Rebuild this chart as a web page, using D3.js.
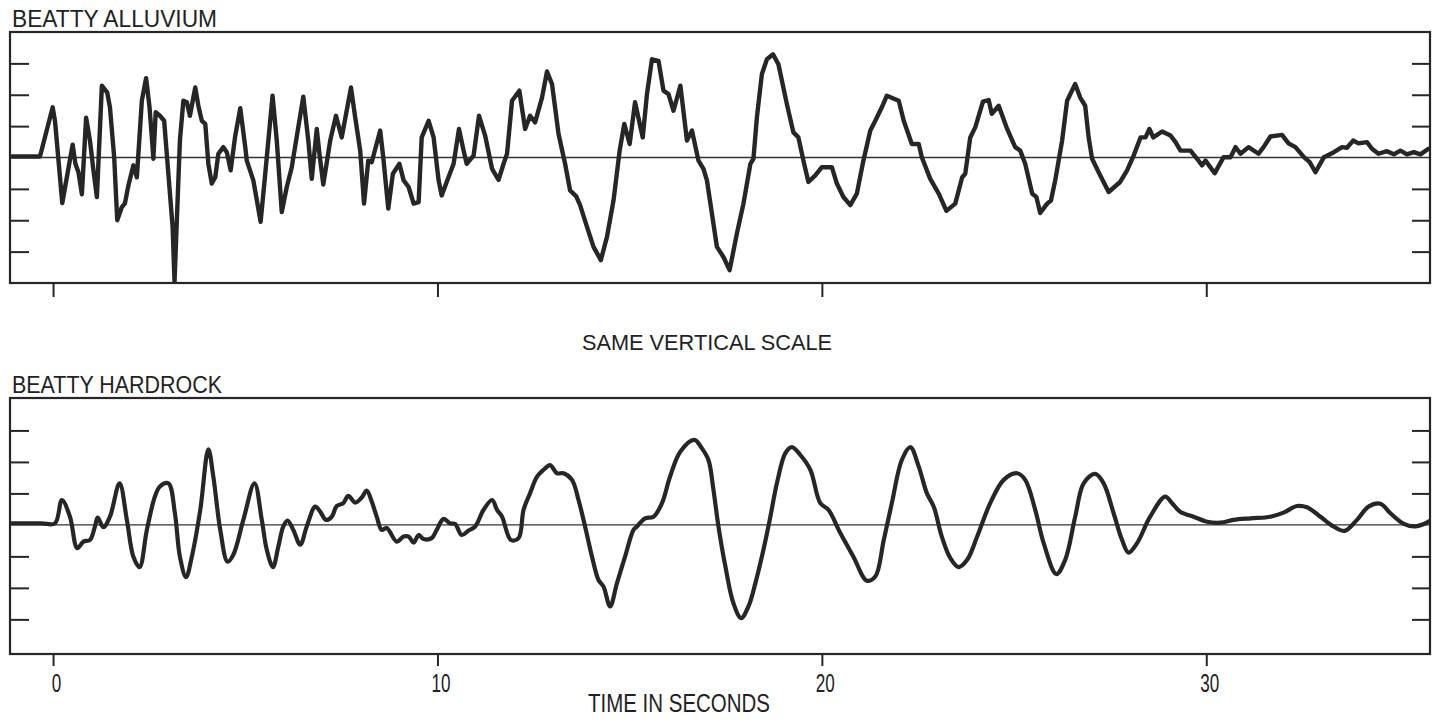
<!DOCTYPE html>
<html>
<head>
<meta charset="utf-8">
<script src="https://cdn.jsdelivr.net/npm/d3@7"></script>
<style>
  html, body { margin: 0; padding: 0; background: #ffffff; }
  svg text { font-family: "Liberation Sans Narrow", "Liberation Sans", Arial, sans-serif; fill: #222; }
</style>
</head>
<body>
<svg id="chart" width="1434" height="720"></svg>
<script>
// Time axis ticks (seconds) and amplitude ticks (divisions of the common vertical scale)
const timeTicks = [0, 10, 20, 30];
const timeTickLabels = ["0", "10", "20", "30"];
const ampTicks = [-3, -2, -1, 1, 2, 3];

const titles = ["BEATTY ALLUVIUM", "BEATTY HARDROCK"];
const middleNote = "SAME VERTICAL SCALE";
const timeAxisTitle = "TIME IN SECONDS";

// Ground motion at the alluvium station: [time (s), amplitude (divisions)]
const alluvium = [
  [-1.07,0.03],[-0.34,0.03],[-0.01,1.60],[0.05,1.17],[0.24,-1.45],[0.51,0.41],[0.58,-0.19],[0.66,-0.47],
  [0.75,-1.17],[0.86,1.27],[0.96,0.54],[1.05,-0.41],[1.14,-1.26],[1.27,2.29],[1.41,2.07],[1.48,1.60],
  [1.59,0.01],[1.67,-2.00],[1.79,-1.58],[1.87,-1.46],[1.96,-0.89],[2.09,-0.25],[2.18,-0.63],[2.31,1.81],
  [2.42,2.53],[2.51,1.60],[2.57,0.64],[2.61,-0.04],[2.67,1.44],[2.78,1.33],[2.89,1.17],[3.00,-0.52],
  [3.11,-2.21],[3.16,-3.96],[3.22,-2.00],[3.30,0.54],[3.39,1.81],[3.48,1.76],[3.56,1.33],[3.70,2.23],
  [3.78,1.65],[3.87,1.17],[3.96,1.07],[4.04,-0.20],[4.13,-0.83],[4.22,-0.63],[4.30,0.12],[4.43,0.33],
  [4.52,0.17],[4.62,-0.41],[4.74,0.70],[4.87,1.57],[5.00,0.33],[5.04,-0.10],[5.21,-0.73],[5.40,-2.05],
  [5.52,-0.52],[5.71,1.97],[5.82,0.54],[5.95,-1.74],[6.08,-0.94],[6.21,-0.31],[6.51,1.94],[6.64,0.54],
  [6.73,-0.68],[6.86,0.91],[6.93,0.12],[7.03,-0.86],[7.21,0.54],[7.36,1.33],[7.51,0.64],[7.75,2.23],
  [7.86,1.28],[7.99,0.22],[8.09,-1.47],[8.20,-0.10],[8.29,-0.15],[8.51,0.86],[8.59,0.01],[8.72,-1.63],
  [8.84,-0.52],[9.01,-0.20],[9.12,-0.73],[9.25,-0.94],[9.38,-1.47],[9.51,-1.42],[9.59,0.64],[9.77,1.17],
  [9.90,0.64],[10.03,-0.73],[10.11,-1.21],[10.24,-0.78],[10.42,-0.20],[10.56,0.91],[10.68,0.22],[10.76,-0.20],
  [10.94,0.06],[11.08,1.33],[11.24,0.70],[11.42,-0.36],[11.59,-0.71],[11.72,-0.20],[11.81,0.12],[11.94,1.81],
  [12.13,2.13],[12.28,0.91],[12.41,1.33],[12.54,1.12],[12.72,1.91],[12.85,2.74],[12.98,2.34],[13.15,0.75],
  [13.32,-0.20],[13.45,-1.05],[13.61,-1.24],[13.71,-1.52],[13.89,-2.21],[14.06,-2.85],[14.25,-3.27],[14.41,-2.53],
  [14.58,-1.37],[14.74,0.22],[14.86,1.07],[15.00,0.43],[15.14,1.76],[15.34,0.64],[15.45,2.02],[15.58,3.13],
  [15.75,3.08],[15.88,2.13],[16.01,2.02],[16.14,1.49],[16.32,2.29],[16.49,0.54],[16.62,0.86],[16.79,-0.10],
  [16.92,-0.36],[17.01,-0.73],[17.27,-2.85],[17.44,-3.17],[17.60,-3.59],[17.79,-2.42],[17.96,-1.47],[18.14,-0.20],
  [18.22,-0.04],[18.31,1.28],[18.44,2.66],[18.57,3.13],[18.73,3.29],[18.87,2.97],[19.09,1.70],[19.26,0.80],
  [19.39,0.64],[19.52,-0.10],[19.65,-0.78],[19.83,-0.57],[20.00,-0.31],[20.26,-0.31],[20.39,-0.83],[20.56,-1.26],
  [20.74,-1.52],[20.91,-1.15],[21.08,-0.10],[21.26,0.86],[21.39,1.17],[21.56,1.60],[21.69,1.97],[22.00,1.81],
  [22.13,1.17],[22.34,0.43],[22.52,0.43],[22.60,0.01],[22.82,-0.68],[23.04,-1.15],[23.24,-1.70],[23.47,-1.47],
  [23.65,-0.63],[23.73,-0.52],[23.86,0.64],[23.99,0.96],[24.19,1.78],[24.34,1.83],[24.42,1.39],[24.60,1.65],
  [24.82,0.91],[25.03,0.33],[25.16,0.22],[25.29,-0.20],[25.47,-1.15],[25.58,-1.26],[25.68,-1.77],[25.86,-1.47],
  [25.96,-1.37],[26.07,-0.73],[26.25,0.54],[26.38,1.81],[26.59,2.34],[26.72,1.91],[26.85,1.65],[26.94,0.64],
  [27.03,-0.04],[27.20,-0.47],[27.46,-1.10],[27.76,-0.78],[27.94,-0.41],[28.11,0.06],[28.29,0.64],[28.42,0.64],
  [28.52,0.91],[28.62,0.64],[28.85,0.83],[29.07,0.70],[29.20,0.49],[29.33,0.22],[29.59,0.22],[29.76,-0.04],
  [29.89,-0.25],[29.98,-0.10],[30.22,-0.50],[30.45,0.01],[30.63,0.01],[30.76,0.33],[30.89,0.12],[31.10,0.33],
  [31.36,0.12],[31.49,0.33],[31.67,0.67],[31.97,0.72],[32.14,0.45],[32.32,0.33],[32.54,0.01],[32.69,-0.15],
  [32.84,-0.47],[33.06,0.01],[33.32,0.17],[33.53,0.33],[33.66,0.31],[33.82,0.54],[33.96,0.45],[34.18,0.49],
  [34.31,0.28],[34.48,0.12],[34.70,0.20],[34.88,0.10],[35.05,0.22],[35.22,0.10],[35.40,0.17],[35.57,0.10],
  [35.78,0.28]
];

// Ground motion at the hardrock station: [time (s), amplitude (divisions)]
const hardrock = [
  [-1.07,0.05],[-0.30,0.05],[0.05,0.05],[0.23,0.79],[0.44,0.26],[0.63,-0.74],[0.79,-0.53],[0.96,-0.48],[1.09,-0.05],
  [1.16,0.23],[1.31,-0.07],[1.48,0.26],[1.73,1.32],[1.92,0.16],[2.09,-1.01],[2.25,-1.34],[2.44,-0.16],
  [2.65,0.90],[2.78,1.22],[3.00,1.32],[3.17,0.37],[3.30,-1.01],[3.46,-1.66],[3.61,-1.01],[3.83,0.48],
  [4.04,2.40],[4.17,1.53],[4.35,-0.16],[4.54,-1.17],[4.69,-0.95],[4.95,0.16],[5.24,1.32],[5.43,0.16],
  [5.56,-0.79],[5.72,-1.34],[5.86,-0.69],[5.99,-0.05],[6.10,0.14],[6.25,-0.16],[6.43,-0.63],[6.60,-0.05],
  [6.82,0.58],[6.95,0.42],[7.10,0.16],[7.25,0.26],[7.38,0.60],[7.55,0.69],[7.68,0.92],[7.86,0.71],
  [8.03,0.87],[8.16,1.09],[8.29,0.74],[8.42,0.26],[8.55,-0.16],[8.68,-0.10],[8.94,-0.53],[9.12,-0.37],
  [9.25,-0.37],[9.38,-0.56],[9.51,-0.32],[9.64,-0.45],[9.85,-0.42],[9.98,-0.16],[10.16,0.19],[10.33,0.05],
  [10.46,0.03],[10.63,-0.32],[10.81,-0.18],[10.98,-0.05],[11.20,0.48],[11.42,0.79],[11.55,0.48],[11.68,0.26],
  [11.91,-0.48],[12.11,-0.42],[12.24,0.48],[12.41,1.01],[12.59,1.53],[12.76,1.75],[12.93,1.90],[13.11,1.64],
  [13.28,1.64],[13.50,1.43],[13.67,0.79],[13.84,-0.05],[14.02,-1.01],[14.19,-1.75],[14.32,-1.96],[14.49,-2.59],
  [14.67,-1.85],[14.88,-1.01],[15.10,-0.16],[15.19,-0.05],[15.40,0.21],[15.62,0.26],[15.84,0.69],[16.05,1.53],
  [16.32,2.33],[16.68,2.70],[16.88,2.43],[17.05,2.06],[17.18,1.11],[17.31,-0.05],[17.49,-1.32],[17.70,-2.49],
  [17.90,-2.96],[18.09,-2.59],[18.27,-1.85],[18.48,-0.79],[18.66,0.26],[18.83,1.32],[19.05,2.28],[19.22,2.47],
  [19.44,2.22],[19.70,1.75],[19.96,0.69],[20.17,0.48],[20.48,-0.26],[20.82,-1.01],[21.17,-1.77],[21.39,-1.64],
  [21.61,-0.48],[21.82,0.69],[22.08,2.06],[22.30,2.47],[22.52,1.85],[22.73,1.01],[22.91,0.58],[23.12,-0.37],
  [23.34,-1.05],[23.56,-1.34],[23.78,-1.11],[24.04,-0.37],[24.38,0.69],[24.73,1.43],[25.08,1.64],[25.29,1.43],
  [25.55,0.48],[25.77,-0.58],[26.10,-1.56],[26.33,-1.11],[26.59,0.26],[26.81,1.32],[27.11,1.62],[27.33,1.32],
  [27.59,0.37],[27.81,-0.48],[27.98,-0.88],[28.20,-0.58],[28.54,0.26],[28.93,0.90],[29.11,0.69],[29.32,0.42],
  [29.67,0.26],[30.02,0.10],[30.37,0.07],[30.71,0.16],[31.15,0.21],[31.67,0.26],[32.01,0.39],[32.36,0.60],
  [32.62,0.56],[32.97,0.26],[33.31,-0.05],[33.60,-0.19],[33.92,0.16],[34.22,0.58],[34.53,0.67],[34.79,0.37],
  [35.14,0.03],[35.40,-0.05],[35.66,0.03],[35.83,0.14]
];

const ink = "#262626";
const svg = d3.select("#chart");

const x = d3.scaleLinear().domain([-1.12, 35.82]).range([10, 1430]);

const panels = [
  { title: titles[0], data: alluvium, top: 32, bottom: 283, yDomain: [-4, 4],
    curve: d3.curveLinear, titleY: 27, titleLen: 205, tickLabels: false, width: 4.4 },
  { title: titles[1], data: hardrock, top: 398, bottom: 654, yDomain: [-4.1, 4.03],
    curve: d3.curveCatmullRom.alpha(0.5), titleY: 393, titleLen: 210, tickLabels: true, width: 4.2 }
];

// condensed lettering: a narrow face stretched upright so its box stays tight
function tallText(parent, str, x0, baseline, size, len, stretch) {
  return parent.append("text")
    .attr("transform", `translate(${x0},${baseline}) scale(1,${stretch})`)
    .attr("x", 0).attr("y", 0)
    .attr("text-anchor", "start")
    .attr("font-size", size)
    .attr("textLength", len).attr("lengthAdjust", "spacingAndGlyphs")
    .text(str);
}

panels.forEach((p, i) => {
  const y = d3.scaleLinear().domain(p.yDomain).range([p.bottom, p.top]);
  const g = svg.append("g");

  const clipId = "clip" + i;
  svg.append("clipPath").attr("id", clipId)
    .append("rect").attr("x", x.range()[0]).attr("y", p.top)
    .attr("width", x.range()[1] - x.range()[0]).attr("height", p.bottom - p.top);

  // zero line
  g.append("line")
    .attr("x1", x.range()[0]).attr("x2", x.range()[1])
    .attr("y1", y(0)).attr("y2", y(0))
    .attr("stroke", "#333").attr("stroke-width", 1.4);

  // seismogram trace
  const line = d3.line().x(d => x(d[0])).y(d => y(d[1])).curve(p.curve);
  g.append("path")
    .datum(p.data)
    .attr("clip-path", `url(#${clipId})`)
    .attr("d", line)
    .attr("fill", "none")
    .attr("stroke", ink)
    .attr("stroke-width", p.width)
    .attr("stroke-linejoin", "round")
    .attr("stroke-linecap", "round");

  // frame
  g.append("rect")
    .attr("x", x.range()[0]).attr("y", p.top)
    .attr("width", x.range()[1] - x.range()[0]).attr("height", p.bottom - p.top)
    .attr("fill", "none").attr("stroke", ink).attr("stroke-width", 2.2);

  // inward amplitude ticks on both sides
  const leftAxis = g.append("g").attr("transform", `translate(${x.range()[0]},0)`)
    .call(d3.axisRight(y).tickValues(ampTicks).tickSize(19).tickFormat(""));
  const rightAxis = g.append("g").attr("transform", `translate(${x.range()[1]},0)`)
    .call(d3.axisLeft(y).tickValues(ampTicks).tickSize(18).tickFormat(""));
  [leftAxis, rightAxis].forEach(a => {
    a.select(".domain").remove();
    a.selectAll("line").attr("stroke", ink).attr("stroke-width", 2);
  });

  // time ticks below the frame
  const bottomAxis = g.append("g").attr("transform", `translate(0,${p.bottom})`)
    .call(d3.axisBottom(x).tickValues(timeTicks).tickSize(p.tickLabels ? 12 : 14)
      .tickFormat(""));
  bottomAxis.select(".domain").remove();
  bottomAxis.selectAll("line").attr("stroke", ink).attr("stroke-width", 2);

  if (p.tickLabels) {
    bottomAxis.selectAll(".tick").each(function (d, k) {
      const lbl = timeTickLabels[k];
      const w = lbl.length * 9.5;
      tallText(d3.select(this), lbl, 3 - w / 2, 38, 18, w, 1.4);
    });
  }

  // panel title
  tallText(svg, p.title, 12, p.titleY, 20, p.titleLen, 1.2);
});

tallText(svg, middleNote, 582, 350, 19, 250, 1.2);
tallText(svg, timeAxisTitle, 588, 712, 19, 182, 1.38);
</script>
</body>
</html>
